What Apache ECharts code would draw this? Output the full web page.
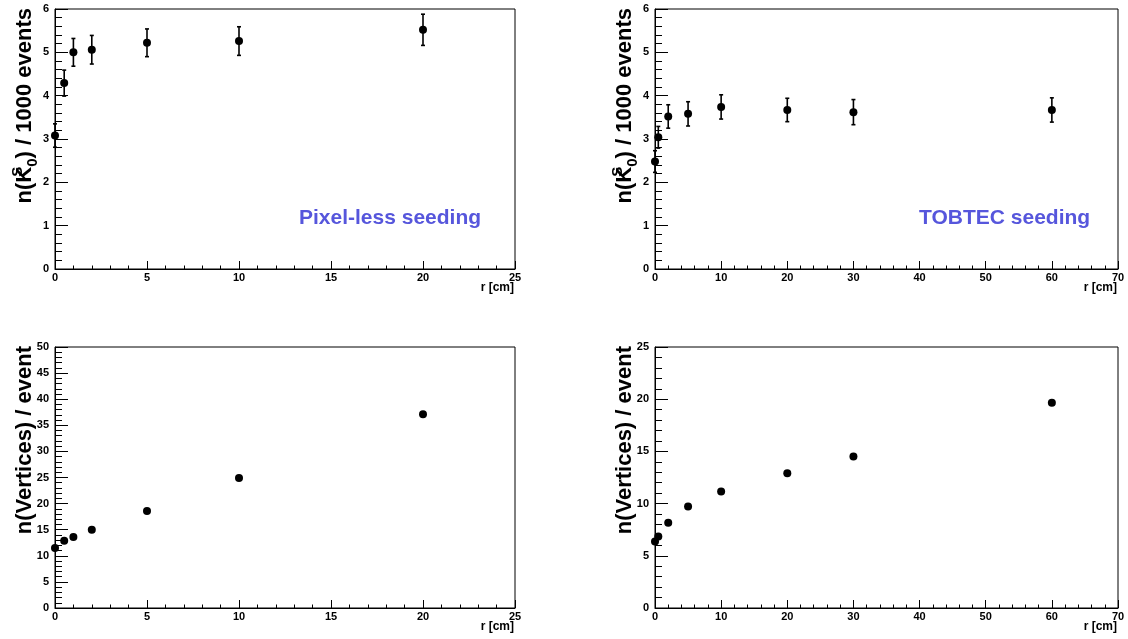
<!DOCTYPE html>
<html>
<head>
<meta charset="utf-8">
<script src="https://cdn.jsdelivr.net/npm/echarts@6/dist/echarts.min.js"></script>
<style>
  html, body { margin: 0; padding: 0; background: #fff; }
  #chart { width: 1128px; height: 639px; }
</style>
</head>
<body>
<div id="chart"></div>
<script>
// Radial positions of the seeding start (cm)
const radiiPixelless = [0, 0.5, 1, 2, 5, 10, 20];
const radiiTobtec = [0, 0.5, 2, 5, 10, 20, 30, 60];

// Reconstructed K0S per 1000 events, with statistical errors
const k0sPixelless = [3.08, 4.29, 5.00, 5.06, 5.22, 5.26, 5.52];
const k0sPixellessErr = [0.27, 0.30, 0.32, 0.33, 0.32, 0.33, 0.36];
const k0sTobtec = [2.48, 3.04, 3.52, 3.58, 3.74, 3.67, 3.62, 3.67];
const k0sTobtecErr = [0.25, 0.25, 0.27, 0.28, 0.28, 0.27, 0.29, 0.28];

// Number of vertex candidates per event
const verticesPixelless = [11.5, 12.9, 13.6, 15.0, 18.6, 24.9, 37.1];
const verticesTobtec = [6.37, 6.85, 8.16, 9.73, 11.17, 12.9, 14.5, 19.65];

// Axis ranges: [max, major interval]
const xRangeLeft = [25, 5];
const xRangeRight = [70, 10];
const yRangeK0s = [6, 1];
const yRangeVertLeft = [50, 5];
const yRangeVertRight = [25, 5];

const FONT = "'Liberation Sans', Arial, Helvetica, sans-serif";

const frames = [
  { left: 55, top: 9, width: 460, height: 260 },
  { left: 655, top: 9, width: 463, height: 260 },
  { left: 55, top: 347, width: 460, height: 261 },
  { left: 655, top: 347, width: 463, height: 261 }
];

function xAxisFor(gridIndex, range) {
  return {
    type: 'value', gridIndex, min: 0, max: range[0], interval: range[1],
    axisLine: { show: true, onZero: false, lineStyle: { color: '#000', width: 1 } },
    axisTick: { show: true, inside: true, length: 8, lineStyle: { color: '#000', width: 1 } },
    minorTick: { show: true, splitNumber: 5, length: 3.5, lineStyle: { color: '#000', width: 1 } },
    splitLine: { show: false },
    axisLabel: { margin: 3, color: '#000', fontSize: 11, fontWeight: 'bold', fontFamily: FONT }
  };
}

function yAxisFor(gridIndex, range) {
  return {
    type: 'value', gridIndex, min: 0, max: range[0], interval: range[1],
    axisLine: { show: true, onZero: false, lineStyle: { color: '#000', width: 1 } },
    axisTick: { show: true, inside: true, length: 13, lineStyle: { color: '#000', width: 1 } },
    minorTick: { show: true, splitNumber: 5, length: 7, lineStyle: { color: '#000', width: 1 } },
    splitLine: { show: false },
    axisLabel: { margin: 6, color: '#000', fontSize: 11, fontWeight: 'bold', fontFamily: FONT }
  };
}

function zip(xs, ys, es) {
  return xs.map((x, i) => es ? [x, ys[i], es[i]] : [x, ys[i]]);
}

function errorBars(idx, data) {
  return {
    type: 'custom', xAxisIndex: idx, yAxisIndex: idx, data,
    encode: { x: 0, y: 1 }, silent: true, z: 2,
    renderItem(params, api) {
      const x = api.value(0), y = api.value(1), e = api.value(2);
      const hi = api.coord([x, y + e]);
      const lo = api.coord([x, y - e]);
      const cap = 2;
      const st = { stroke: '#000', lineWidth: 1.6 };
      return {
        type: 'group',
        children: [
          { type: 'line', shape: { x1: hi[0], y1: hi[1], x2: lo[0], y2: lo[1] }, style: st },
          { type: 'line', shape: { x1: hi[0] - cap, y1: hi[1], x2: hi[0] + cap, y2: hi[1] }, style: st },
          { type: 'line', shape: { x1: lo[0] - cap, y1: lo[1], x2: lo[0] + cap, y2: lo[1] }, style: st }
        ]
      };
    }
  };
}

function points(idx, data) {
  return {
    type: 'scatter', xAxisIndex: idx, yAxisIndex: idx, data,
    symbol: 'circle', symbolSize: 8, z: 3,
    itemStyle: { color: '#000', opacity: 1 },
    emphasis: { disabled: true }
  };
}

function yTitle(f, rich, text) {
  return {
    type: 'text', x: f.left - 30, y: f.top - 1, rotation: Math.PI / 2,
    style: {
      text, align: 'right', verticalAlign: 'middle',
      fontSize: 22, fontWeight: 'bold', fontFamily: FONT, fill: '#000',
      lineHeight: 30, rich
    }
  };
}

function unitLabel(f) {
  return {
    type: 'text', x: f.left + f.width - 1, y: f.top + f.height + 19,
    style: {
      text: 'r [cm]', align: 'right', verticalAlign: 'middle',
      fontSize: 12, fontWeight: 'bold', fontFamily: FONT, fill: '#000'
    }
  };
}

function noteLabel(x, y, text) {
  return {
    type: 'text', x, y,
    style: {
      text, align: 'left', verticalAlign: 'middle',
      fontSize: 21, fontWeight: 'bold', fontFamily: FONT, fill: '#5656dc'
    }
  };
}

const k0sRich = {
  s: { fontSize: 15, fontWeight: 'bold', fontFamily: FONT, fill: '#000', verticalAlign: 'top', width: 0 },
  b: { fontSize: 15, fontWeight: 'bold', fontFamily: FONT, fill: '#000', verticalAlign: 'bottom' }
};
const k0sTitle = 'n(K{s|S}{b|0}) / 1000 events';
const vertTitle = 'n(Vertices) / event';

const option = {
  animation: false,
  backgroundColor: '#fff',
  grid: frames.map(f => Object.assign({ show: true, borderColor: '#000', borderWidth: 1, backgroundColor: 'transparent' }, f)),
  xAxis: [xAxisFor(0, xRangeLeft), xAxisFor(1, xRangeRight), xAxisFor(2, xRangeLeft), xAxisFor(3, xRangeRight)],
  yAxis: [yAxisFor(0, yRangeK0s), yAxisFor(1, yRangeK0s), yAxisFor(2, yRangeVertLeft), yAxisFor(3, yRangeVertRight)],
  series: [
    errorBars(0, zip(radiiPixelless, k0sPixelless, k0sPixellessErr)),
    points(0, zip(radiiPixelless, k0sPixelless)),
    errorBars(1, zip(radiiTobtec, k0sTobtec, k0sTobtecErr)),
    points(1, zip(radiiTobtec, k0sTobtec)),
    points(2, zip(radiiPixelless, verticesPixelless)),
    points(3, zip(radiiTobtec, verticesTobtec))
  ],
  graphic: [
    yTitle(frames[0], k0sRich, k0sTitle),
    yTitle(frames[1], k0sRich, k0sTitle),
    yTitle(frames[2], null, vertTitle),
    yTitle(frames[3], null, vertTitle),
    unitLabel(frames[0]), unitLabel(frames[1]), unitLabel(frames[2]), unitLabel(frames[3]),
    noteLabel(299, 218, 'Pixel-less seeding'),
    noteLabel(919, 218, 'TOBTEC seeding')
  ]
};

const chart = echarts.init(document.getElementById('chart'), null, { renderer: 'canvas' });
chart.setOption(option);
</script>
</body>
</html>
